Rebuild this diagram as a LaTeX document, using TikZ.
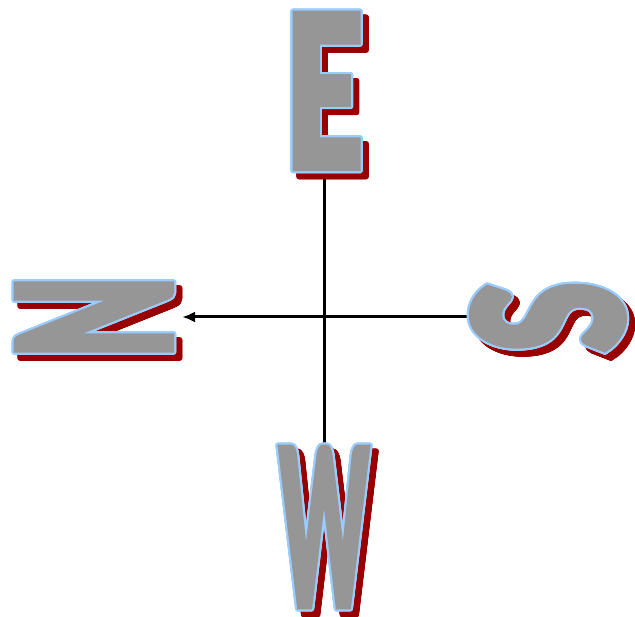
\documentclass[tikz,border=0pt]{standalone}
\usepackage{fontspec}
\usepackage{xcolor}
\usepackage[copies]{contour}
\usetikzlibrary{arrows.meta, backgrounds}
\definecolor{cgrey}{HTML}{969696}
\definecolor{cblue}{HTML}{99CCFF}
\definecolor{cred}{HTML}{990000}
\IfFontExistsTF{Lato Black}{\newfontfamily\cfont{Lato Black}[FakeBold=3]}{\newfontfamily\cfont{Liberation Sans}[UprightFont={* Bold}, FakeBold=3]}
\contournumber{24}
\contourlength{2.1bp}
\newcommand{\cglyph}[3]{\resizebox*{#1}{#2}{\cfont #3}}

\begin{document}
\begin{tikzpicture}[x=1bp, y=1bp,
  glyph/.style={inner sep=0pt, outer sep=0pt, text=cgrey},
  glyphshadow/.style={inner sep=0pt, outer sep=0pt, text=cred},
  ar/.style={-{Latex[length=13bp, width=11bp]}, line width=3bp}]
\useasboundingbox (0,0) rectangle (635,617);

% shadows
\node[glyphshadow] (Eshadow) at (330,519) {\contour{cred}{\cglyph{78bp}{154bp}{E}}};
\node[glyphshadow] (Wshadow) at (330,83) {\contour{cred}{\cglyph{90bp}{158bp}{W}}};
\node[glyphshadow, rotate=90] (Nshadow) at (101,294) {\contour{cred}{\cglyph{83bp}{154bp}{N}}};
\node[glyphshadow, rotate=90] (Sshadow) at (555,294) {\contour{cred}{\cglyph{70bp}{152bp}{S}}};

% letters
\node[glyph] (E) at (324,525) {\contour{cblue}{\cglyph{78bp}{154bp}{E}}};
\node[glyph] (W) at (324,89) {\contour{cblue}{\cglyph{90bp}{158bp}{W}}};
\node[glyph, rotate=90] (N) at (95,300) {\contour{cblue}{\cglyph{83bp}{154bp}{N}}};
\node[glyph, rotate=90] (S) at (549,300) {\contour{cblue}{\cglyph{70bp}{152bp}{S}}};

\begin{scope}[on background layer]
\draw[line width=3bp] (E) -- (W);
\draw[ar, shorten >=9bp] (S) -- (N);
\end{scope}
\end{tikzpicture}
\end{document}
